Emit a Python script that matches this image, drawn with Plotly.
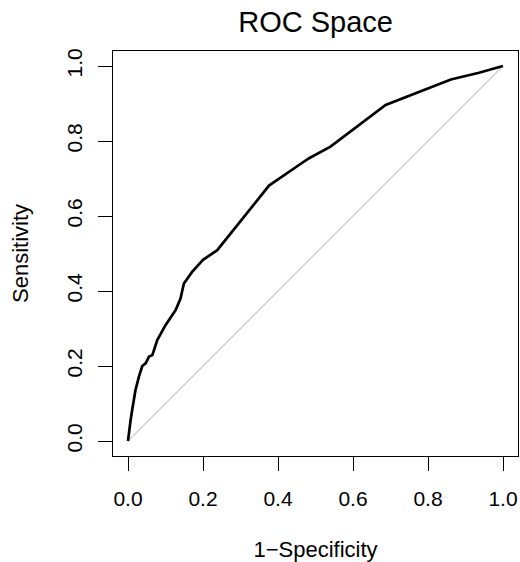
import plotly.graph_objects as go

# ROC curve values
fpr = [0.0, 0.003, 0.007, 0.012, 0.02, 0.029, 0.038, 0.047, 0.056, 0.065, 0.078,
       0.1, 0.127, 0.14, 0.149, 0.171, 0.2, 0.238, 0.26, 0.376, 0.456, 0.483,
       0.54, 0.687, 0.861, 0.936, 1.0]
tpr = [0.0, 0.03, 0.056, 0.088, 0.136, 0.171, 0.2, 0.207, 0.225, 0.229, 0.269,
       0.309, 0.349, 0.38, 0.42, 0.451, 0.483, 0.509, 0.536, 0.681, 0.736, 0.754,
       0.785, 0.896, 0.964, 0.982, 1.0]
diag = [0.0, 1.0]
tick_vals = [0.0, 0.2, 0.4, 0.6, 0.8, 1.0]
tick_text = ["0.0", "0.2", "0.4", "0.6", "0.8", "1.0"]

FONT = "Liberation Sans, Arial, sans-serif"

fig = go.Figure()
fig.add_trace(go.Scatter(x=diag, y=diag, mode="lines",
                         line=dict(color="#cfcfcf", width=1.3), hoverinfo="skip",
                         showlegend=False))
fig.add_trace(go.Scatter(x=fpr, y=tpr, mode="lines",
                         line=dict(color="black", width=2.7), showlegend=False))

axis_common = dict(
    range=[-0.04, 1.04], tickvals=tick_vals, ticktext=tick_text,
    ticks="outside", ticklen=14, tickwidth=1, tickcolor="black",
    showline=True, linecolor="black", linewidth=1, mirror=True,
    showgrid=False, zeroline=False, automargin=False,
    tickfont=dict(family=FONT, size=21, color="black"),
)

fig.update_layout(
    width=520, height=562,
    margin=dict(l=113, r=2, t=51, b=106),
    paper_bgcolor="white", plot_bgcolor="white",
    title=dict(text="ROC Space", x=0.607, xanchor="center", y=0.962, yanchor="middle",
               font=dict(family=FONT, size=29, color="black")),
    xaxis=dict(**axis_common, ticklabelstandoff=10,
               title=dict(text="1\u2212Specificity", standoff=32,
                          font=dict(family=FONT, size=22, color="black"))),
    yaxis=dict(**axis_common, tickangle=-90, ticklabelstandoff=8,
               title=dict(text="Sensitivity", standoff=27,
                          font=dict(family=FONT, size=22, color="black"))),
)

fig.write_html("out.html", config={"displayModeBar": False},
               post_script="document.body.style.margin='0';")
